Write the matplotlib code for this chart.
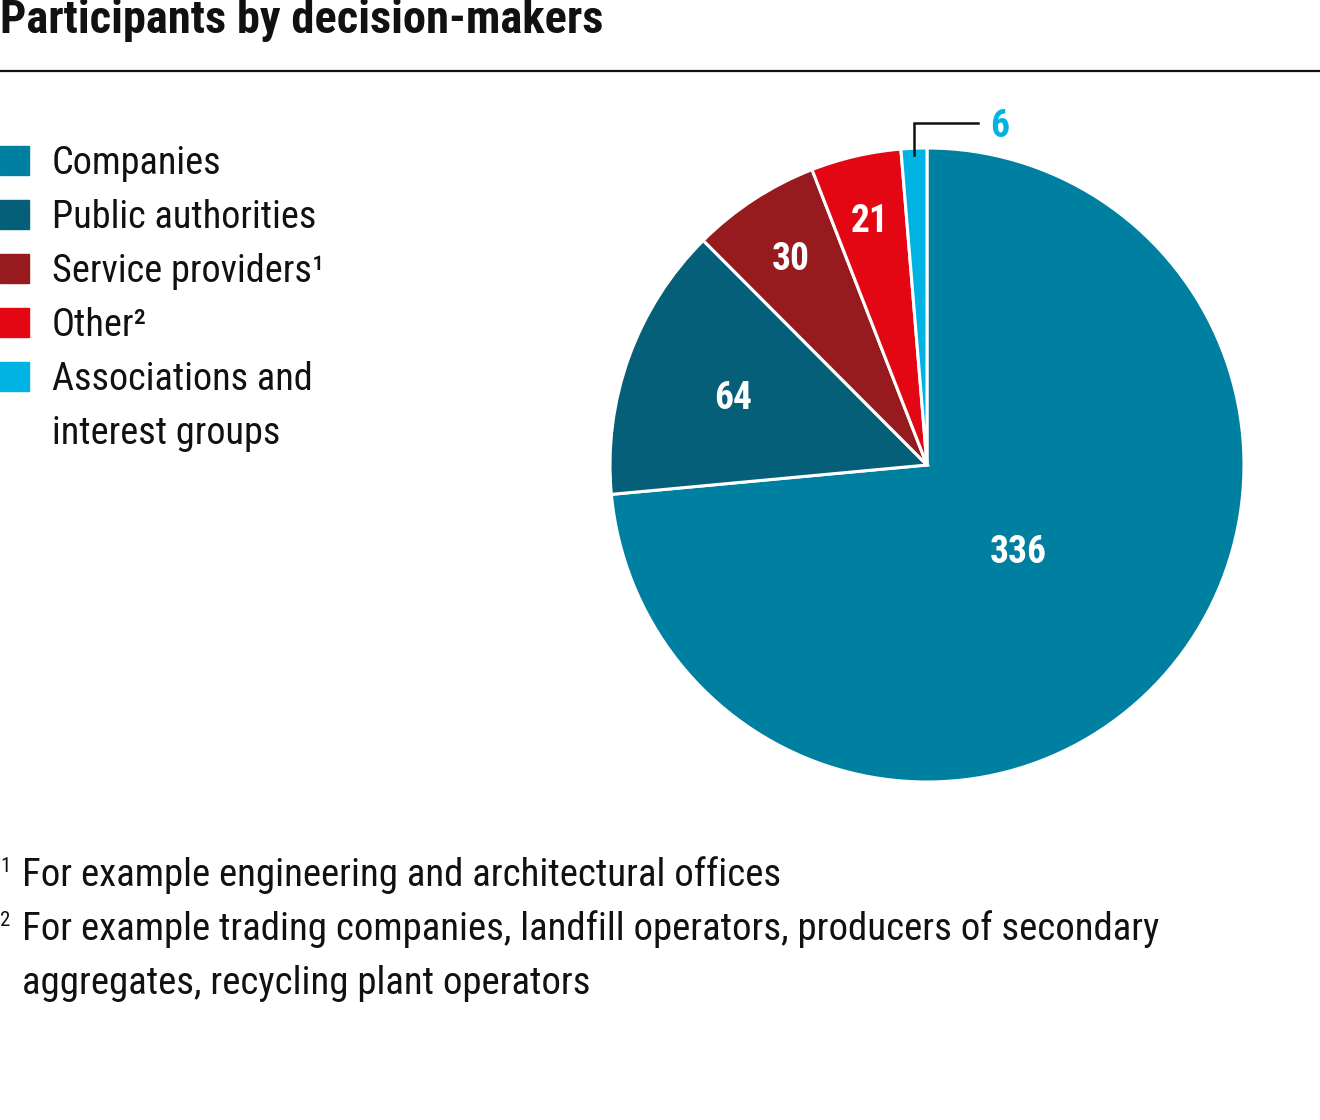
import matplotlib
matplotlib.use("Agg")
import matplotlib.pyplot as plt
from matplotlib import font_manager
import numpy as np

# data
categories = ["Companies", "Public authorities", "Service providers", "Other",
              "Associations and interest groups"]
legend_labels = ["Companies", "Public authorities", "Service providers\u00b9", "Other\u00b2",
                 "Associations and\ninterest groups"]
values = [336, 64, 30, 21, 6]
colors = ["#0080A0", "#055F78", "#961A1E", "#E30613", "#00B3E3"]
label_r = [0.39, 0.65, 0.79, 0.80, None]   # inner label radius, None = outside label
footnotes = ["For example engineering and architectural offices",
             "For example trading companies, landfill operators, producers of secondary\naggregates, recycling plant operators"]

def pick_font(names):
    for n in names:
        try:
            font_manager.findfont(n, fallback_to_default=False)
            return n
        except Exception:
            pass
    return "DejaVu Sans"

FONT = pick_font(["Liberation Sans Narrow", "Roboto Condensed", "Roboto", "Liberation Sans"])
plt.rcParams["font.family"] = [FONT, "DejaVu Sans"]

W, H = 1320, 1120
fig = plt.figure(figsize=(W / 100, H / 100), dpi=100)

def fx(x):
    return x / W

def fy(y):
    return 1 - y / H

# title + rule
fig.text(fx(0), fy(33), "Participants by decision-makers", fontsize=33.5, fontweight="bold",
         ha="left", va="baseline", color="#111111")
fig.add_artist(plt.Line2D([0, 1], [fy(71), fy(71)], color="#111111", lw=1.6))

# pie
cx, cy, r = 927, 465, 317
ax = fig.add_axes([fx(cx - r), fy(cy + r), 2 * r / W, 2 * r / H])
wedges, _ = ax.pie(values, colors=colors, startangle=90, counterclock=False,
                   wedgeprops=dict(edgecolor="white", linewidth=2.2))
ax.set_xlim(-1, 1)
ax.set_ylim(-1, 1)
ax.set_aspect("equal")
ax.axis("off")

for w, v, lr in zip(wedges, values, label_r):
    mid = np.deg2rad((w.theta1 + w.theta2) / 2)
    if lr is not None:
        ax.text(lr * np.cos(mid), lr * np.sin(mid), str(v), color="white", fontsize=27,
                fontweight="bold", ha="center", va="center_baseline")
    else:
        x0, y0 = np.cos(mid) * 0.98, np.sin(mid) * 0.98
        y1 = 1.08
        x1 = x0 + 0.2
        ax.plot([x0, x0, x1], [y0, y1, y1], color="#111111", lw=1.8,
                clip_on=False, solid_joinstyle="miter")
        ax.text(x1 + 0.04, y1, str(v), color=w.get_facecolor(), fontsize=27,
                fontweight="bold", ha="left", va="center_baseline")

# legend
ly = 160
for lab, c in zip(legend_labels, colors):
    fig.patches.append(plt.Rectangle((fx(0), fy(ly + 15)), 29 / W, 29 / H, color=c,
                                     transform=fig.transFigure))
    for ln in lab.split("\n"):
        fig.text(fx(52), fy(ly + 3), ln, fontsize=27.5, ha="left", va="center", color="#111111")
        ly += 54

# footnotes
fy0 = 873
for i, note in enumerate(footnotes):
    fig.text(fx(0), fy(fy0 - 6), str(i + 1), fontsize=15, ha="left", va="center", color="#111111")
    for ln in note.split("\n"):
        fig.text(fx(22), fy(fy0 + 2), ln, fontsize=28, ha="left", va="center", color="#111111")
        fy0 += 54

fig.savefig("out.png", dpi=100, facecolor="white")
